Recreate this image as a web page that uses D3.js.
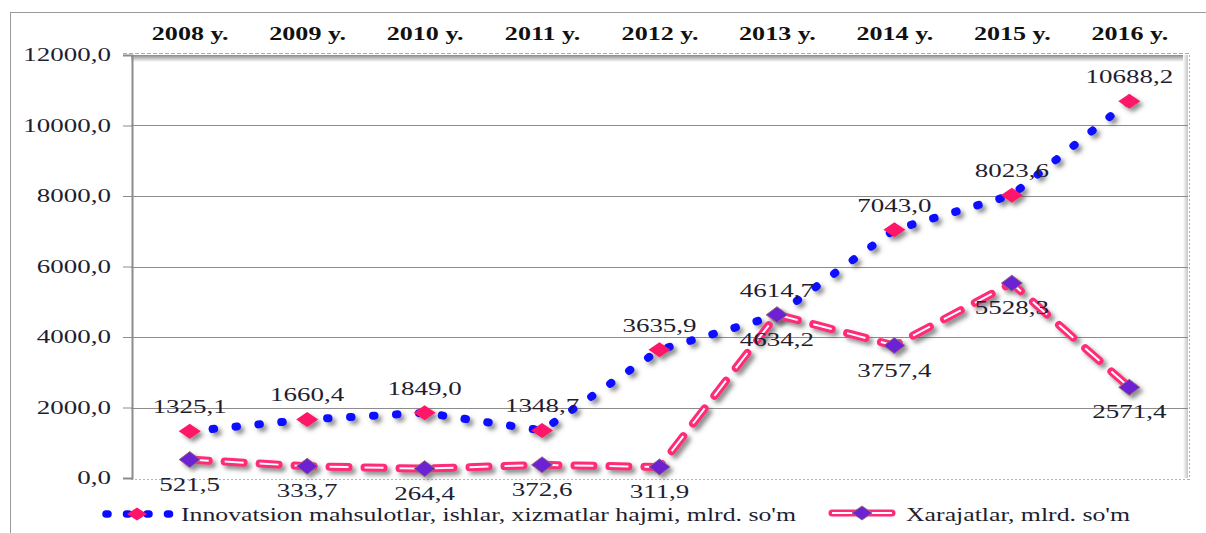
<!DOCTYPE html>
<html>
<head>
<meta charset="utf-8">
<script src="https://cdn.jsdelivr.net/npm/d3@7"></script>
<style>
body { margin: 0; background: #fff; }
text { font-family: "Liberation Serif", "Times New Roman", serif; }
</style>
</head>
<body>
<div id="chart"></div>
<script>
const years = ['2008 y.', '2009 y.', '2010 y.', '2011 y.', '2012 y.', '2013 y.', '2014 y.', '2015 y.', '2016 y.'];
const innovation = [1325.1, 1660.4, 1849.0, 1348.7, 3635.9, 4614.7, 7043.0, 8023.6, 10688.2];
const expenses = [521.5, 333.7, 264.4, 372.6, 311.9, 4634.2, 3757.4, 5528.3, 2571.4];
const yTicks = [0, 2000, 4000, 6000, 8000, 10000, 12000];
const seriesNames = ["Innovatsion mahsulotlar, ishlar, xizmatlar hajmi, mlrd. so'm", "Xarajatlar, mlrd. so'm"];

const width = 1206, height = 533;
const plotLeft = 131, plotRight = 1188, plotTop = 55, plotBottom = 478;
const stretch = 1.42; // the original picture is squashed sideways, so text is wide
const serif = '"Liberation Serif", "Times New Roman", serif';

const fmt = v => v.toFixed(1).replace('.', ',');

const svg = d3.select('#chart').append('svg')
    .attr('width', width)
    .attr('height', height);
const defs = svg.append('defs');

let shadow = defs.append('filter').attr('id', 'shadow')
    .attr('x', '-20%').attr('y', '-20%').attr('width', '140%').attr('height', '140%');
shadow.append('feDropShadow')
    .attr('dx', 3.5).attr('dy', 3.5).attr('stdDeviation', 2)
    .attr('flood-color', '#444').attr('flood-opacity', 0.6);

let topShade = defs.append('linearGradient').attr('id', 'topShade')
    .attr('x1', 0).attr('y1', 0).attr('x2', 0).attr('y2', 1);
topShade.append('stop').attr('offset', '0%').attr('stop-color', '#8a8a8a');
topShade.append('stop').attr('offset', '100%').attr('stop-color', '#fff');

let rightShade = defs.append('linearGradient').attr('id', 'rightShade')
    .attr('x1', 0).attr('y1', 0).attr('x2', 1).attr('y2', 0);
rightShade.append('stop').attr('offset', '0%').attr('stop-color', '#fff');
rightShade.append('stop').attr('offset', '100%').attr('stop-color', '#c4c4c4');

const x = d3.scalePoint().domain(years).range([plotLeft, plotRight]).padding(0.5);
const y = d3.scaleLinear().domain([0, 12000]).range([plotBottom, plotTop]);

// outer frame
svg.append('rect')
    .attr('x', 10.5).attr('y', 12.5)
    .attr('width', 1400).attr('height', 600)
    .attr('fill', 'none').attr('stroke', '#9a9a9a');

// plot area decorations
svg.append('rect')
    .attr('x', plotLeft).attr('y', plotTop)
    .attr('width', plotRight - plotLeft).attr('height', 7)
    .attr('fill', 'url(#topShade)');
svg.append('rect')
    .attr('x', plotRight - 5).attr('y', plotTop)
    .attr('width', 5).attr('height', plotBottom - plotTop)
    .attr('fill', 'url(#rightShade)');
svg.append('line')
    .attr('x1', plotRight + 1.5).attr('x2', plotRight + 1.5)
    .attr('y1', plotTop).attr('y2', plotBottom + 2)
    .attr('stroke', '#9fb0d0').attr('stroke-dasharray', '2 2');
svg.append('line')
    .attr('x1', plotLeft).attr('x2', plotRight + 1)
    .attr('y1', plotBottom + 1.5).attr('y2', plotBottom + 1.5)
    .attr('stroke', '#a8b4d0').attr('stroke-dasharray', '2 2');
svg.append('line')
    .attr('x1', 123).attr('x2', plotRight + 1)
    .attr('y1', plotTop - 1.5).attr('y2', plotTop - 1.5)
    .attr('stroke', '#aaa').attr('stroke-dasharray', '4 2');

// gridlines
svg.append('g').selectAll('line')
    .data(yTicks.filter(t => t > 0 && t < 12000))
    .join('line')
    .attr('x1', plotLeft).attr('x2', plotRight)
    .attr('y1', d => Math.round(y(d)) + 0.5).attr('y2', d => Math.round(y(d)) + 0.5)
    .attr('stroke', '#8c8c8c');

// y axis
let yAxis = svg.append('g')
    .attr('transform', 'translate(' + (plotLeft + 1) + ',0)')
    .call(d3.axisLeft(y).tickValues(yTicks).tickSize(9).tickPadding(7).tickFormat(fmt));
yAxis.select('.domain').attr('stroke', '#8c8c8c').attr('stroke-width', 2);
yAxis.selectAll('.tick line').attr('stroke', '#8c8c8c');
yAxis.selectAll('.tick text')
    .attr('font-family', serif)
    .attr('font-size', 19)
    .attr('fill', '#1e1e30')
    .attr('x', -21 / stretch)
    .attr('dy', '0.3em')
    .attr('transform', 'scale(' + stretch + ',1)');

// x axis on top
let xAxis = svg.append('g')
    .attr('transform', 'translate(0,40)')
    .call(d3.axisTop(x).tickSize(0).tickPadding(0));
xAxis.select('.domain').remove();
xAxis.selectAll('.tick text')
    .attr('font-family', serif)
    .attr('font-size', 18)
    .attr('font-weight', 'bold')
    .attr('fill', '#111')
    .attr('transform', 'scale(1.45,1)');

const line = d3.line()
    .x((d, i) => x(years[i]))
    .y(d => y(d));

function diamond(w, h) {
    return 'M0,' + (-h) + ' L' + w + ',0 L0,' + h + ' L' + (-w) + ',0 Z';
}

// innovation series: blue dotted line, pink diamonds
let g1 = svg.append('g').attr('filter', 'url(#shadow)');
g1.append('path')
    .attr('d', line(innovation))
    .attr('fill', 'none')
    .attr('stroke', '#0a0aff')
    .attr('stroke-width', 8)
    .attr('stroke-linecap', 'round')
    .attr('stroke-dasharray', '1.5 21.5');
g1.selectAll('path.mark')
    .data(innovation)
    .join('path')
    .attr('class', 'mark')
    .attr('d', diamond(11, 7.5))
    .attr('transform', (d, i) => 'translate(' + x(years[i]) + ',' + y(d) + ')')
    .attr('fill', '#ff1468');

// expenses series: pink double-stroked dashes, purple diamonds
let g2 = svg.append('g').attr('filter', 'url(#shadow)');
g2.append('path')
    .attr('d', line(expenses))
    .attr('fill', 'none')
    .attr('stroke', '#ff2a78')
    .attr('stroke-width', 8)
    .attr('stroke-linecap', 'round')
    .attr('stroke-dasharray', '19 16');
g2.append('path')
    .attr('d', line(expenses))
    .attr('fill', 'none')
    .attr('stroke', '#fff')
    .attr('stroke-width', 2)
    .attr('stroke-dasharray', '19 16');
g2.selectAll('path.mark')
    .data(expenses)
    .join('path')
    .attr('class', 'mark')
    .attr('d', diamond(10.5, 8))
    .attr('transform', (d, i) => 'translate(' + x(years[i]) + ',' + y(d) + ')')
    .attr('fill', '#6c22d2')
    .attr('stroke', '#9a6878')
    .attr('stroke-width', 1);

// data labels
function stretchedText(px, py, str) {
    return svg.append('text')
        .attr('transform', 'translate(' + px + ',' + py + ') scale(' + stretch + ',1)')
        .attr('text-anchor', 'middle')
        .attr('font-family', serif)
        .attr('font-size', 19)
        .attr('fill', '#1e1e30')
        .text(str);
}
innovation.forEach((v, i) => stretchedText(x(years[i]), y(v) - 18, fmt(v)));
expenses.forEach((v, i) => stretchedText(x(years[i]), y(v) + 31, fmt(v)));

// legend
let legend = svg.append('g');
legend.append('line')
    .attr('x1', 106).attr('x2', 170)
    .attr('y1', 514).attr('y2', 514)
    .attr('stroke', '#0a0aff')
    .attr('stroke-width', 7.5)
    .attr('stroke-linecap', 'round')
    .attr('stroke-dasharray', '2 18.5');
legend.append('path')
    .attr('d', diamond(10, 6.5))
    .attr('transform', 'translate(137,514)')
    .attr('fill', '#ff1468');
legend.append('text')
    .attr('x', 181).attr('y', 521)
    .attr('font-family', serif)
    .attr('font-size', 19)
    .attr('fill', '#1e1e30')
    .attr('textLength', 615)
    .attr('lengthAdjust', 'spacingAndGlyphs')
    .text(seriesNames[0]);

legend.append('line')
    .attr('x1', 832).attr('x2', 892)
    .attr('y1', 513).attr('y2', 513)
    .attr('stroke', '#ff2a78')
    .attr('stroke-width', 7)
    .attr('stroke-linecap', 'round');
legend.append('line')
    .attr('x1', 832).attr('x2', 892)
    .attr('y1', 513).attr('y2', 513)
    .attr('stroke', '#fff')
    .attr('stroke-width', 1.8);
legend.append('path')
    .attr('d', diamond(10, 7))
    .attr('transform', 'translate(862,513)')
    .attr('fill', '#6c22d2')
    .attr('stroke', '#9a6878');
legend.append('text')
    .attr('x', 906).attr('y', 521)
    .attr('font-family', serif)
    .attr('font-size', 19)
    .attr('fill', '#1e1e30')
    .attr('textLength', 224)
    .attr('lengthAdjust', 'spacingAndGlyphs')
    .text(seriesNames[1]);
</script>
</body>
</html>
